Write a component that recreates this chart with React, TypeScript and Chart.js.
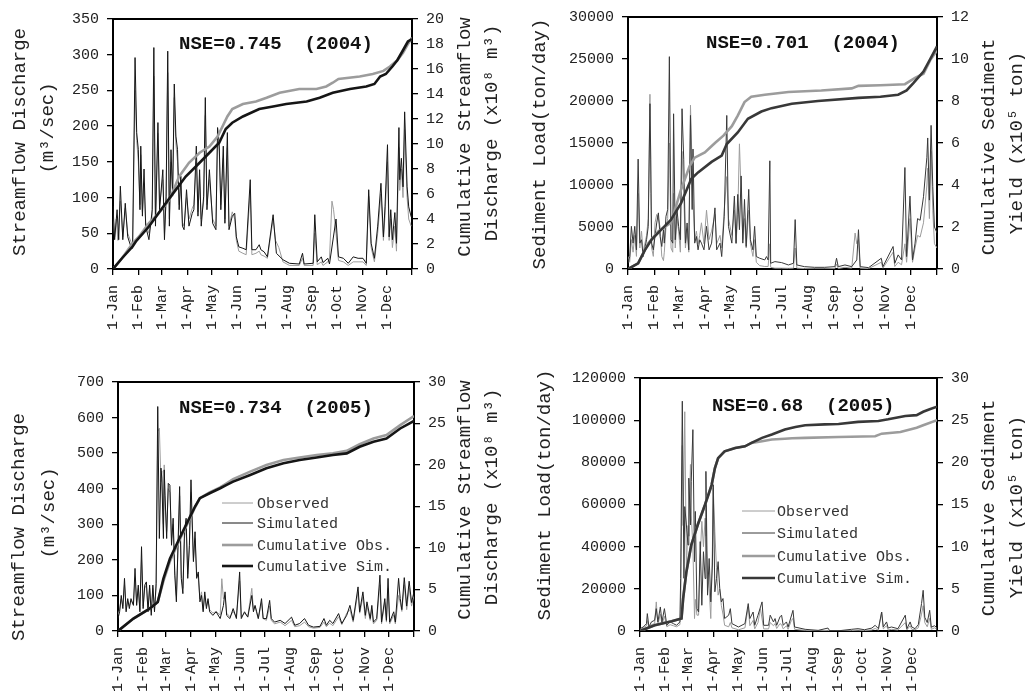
import React, { useEffect, useRef } from "react";
import { Chart, registerables } from "chart.js";

Chart.register(...registerables);

const FONT = "'Liberation Mono', 'DejaVu Sans Mono', monospace";

// ---------- axis tick labels ----------
const MONTH_LABELS = ["1-Jan", "1-Feb", "1-Mar", "1-Apr", "1-May", "1-Jun", "1-Jul", "1-Aug", "1-Sep", "1-Oct", "1-Nov", "1-Dec"];
const MONTH_STARTS_2004 = [0, 31, 60, 91, 121, 152, 182, 213, 244, 274, 305, 335];
const MONTH_STARTS_2005 = [0, 31, 59, 90, 120, 151, 181, 212, 243, 273, 304, 334];
const DAYS_2004 = 366;
const DAYS_2005 = 365;

const P1_LEFT_TICKS = [0, 50, 100, 150, 200, 250, 300, 350];
const P1_RIGHT_TICKS = [0, 2, 4, 6, 8, 10, 12, 14, 16, 18, 20];
const P2_LEFT_TICKS = [0, 5000, 10000, 15000, 20000, 25000, 30000];
const P2_RIGHT_TICKS = [0, 2, 4, 6, 8, 10, 12];
const P3_LEFT_TICKS = [0, 100, 200, 300, 400, 500, 600, 700];
const P3_RIGHT_TICKS = [0, 5, 10, 15, 20, 25, 30];
const P4_LEFT_TICKS = [0, 20000, 40000, 60000, 80000, 100000, 120000];
const P4_RIGHT_TICKS = [0, 5, 10, 15, 20, 25, 30];

// ---------- Panel 1: streamflow 2004 ([day, m3/s]) ----------
const P1_SIM: [number, number][] = [[0,88],[2,41],[5,83],[7,41],[9,116],[12,41],[15,92],[18,45],[22,31],[24,29],[27,296],[29,191],[31,167],[33,83],[34,172],[36,74],[38,140],[40,60],[44,41],[48,83],[50,310],[52,60],[55,205],[57,83],[61,139],[63,41],[65,102],[67,305],[69,60],[71,167],[73,102],[75,259],[77,186],[79,167],[81,83],[83,130],[85,60],[87,55],[90,111],[93,60],[97,78],[99,83],[102,172],[104,74],[106,139],[108,60],[111,102],[113,240],[115,83],[118,139],[122,64],[126,55],[128,198],[130,177],[132,83],[135,172],[137,64],[140,191],[142,55],[146,74],[149,78],[151,45],[154,31],[159,29],[163,27],[168,125],[170,27],[175,27],[179,34],[181,27],[185,24],[189,17],[196,76],[200,22],[208,13],[216,8],[228,7],[232,22],[234,7],[245,8],[247,76],[250,10],[255,17],[257,9],[263,15],[265,7],[273,70],[276,17],[282,15],[288,8],[294,17],[300,15],[306,15],[310,8],[313,111],[316,36],[320,15],[324,60],[328,120],[331,45],[333,88],[336,174],[338,45],[340,83],[342,41],[345,79],[347,36],[350,198],[351,125],[353,155],[355,115],[357,220],[360,115],[362,87],[365,73]];
const P1_OBS: [number, number][] = [[0,75],[2,45],[4,70],[6,40],[9,95],[12,45],[15,85],[18,50],[22,38],[24,33],[27,250],[29,180],[31,150],[33,90],[34,160],[36,80],[38,120],[40,65],[44,50],[48,75],[50,270],[52,70],[55,190],[57,90],[61,125],[63,50],[65,95],[67,275],[69,70],[71,150],[73,110],[75,240],[77,175],[79,150],[81,90],[83,120],[85,65],[87,60],[90,100],[93,70],[97,85],[99,90],[102,150],[104,80],[106,125],[108,70],[111,95],[113,215],[115,90],[118,125],[122,70],[126,60],[128,185],[130,165],[132,90],[135,155],[137,70],[140,170],[142,60],[146,80],[149,70],[151,40],[154,25],[159,22],[163,20],[168,110],[170,20],[175,22],[179,25],[181,20],[185,18],[189,15],[196,70],[199,40],[203,30],[208,10],[216,5],[228,5],[232,15],[234,5],[245,5],[247,50],[250,6],[255,10],[257,5],[263,10],[265,15],[268,95],[270,83],[273,50],[276,12],[282,10],[288,5],[294,10],[300,10],[306,10],[310,5],[313,102],[316,30],[320,10],[324,50],[328,105],[331,40],[333,75],[336,150],[338,40],[340,70],[342,30],[345,60],[347,25],[350,170],[351,110],[353,140],[355,100],[357,195],[360,100],[362,70],[365,60]];
const P1_CUM_OBS: [number, number][] = [[0,0],[11,0.86],[24,2.06],[32,2.6],[44,3.67],[56,4.47],[69,5.54],[81,7.4],[93,8.5],[106,9.3],[118,9.8],[128,10.6],[134,11.4],[140,12.2],[146,12.8],[159,13.2],[175,13.4],[188,13.7],[204,14.1],[228,14.4],[249,14.4],[261,14.6],[269,14.9],[276,15.2],[302,15.4],[318,15.6],[331,15.85],[339,16.2],[348,16.7],[355,17.3],[361,18.0],[366,18.5]];
const P1_CUM_SIM: [number, number][] = [[0,0],[11,0.86],[24,1.8],[28,2.2],[44,3.4],[65,5.3],[77,6.35],[89,7.4],[106,8.5],[118,9.3],[130,10.1],[138,11.2],[146,11.7],[159,12.2],[179,12.8],[196,13.0],[212,13.2],[237,13.4],[253,13.7],[269,14.1],[290,14.4],[310,14.6],[320,14.8],[327,15.4],[334,15.6],[342,16.2],[348,16.7],[355,17.5],[361,18.2],[366,18.4]];

// ---------- Panel 2: sediment 2004 ([day, ton/day]) ----------
const P2_SIM: [number, number][] = [[0,680],[2,1480],[4,5080],[6,3080],[8,5080],[10,2280],[12,13080],[14,3080],[16,3480],[18,1480],[22,3480],[24,5080],[26,19680],[27,13080],[28,3080],[30,2280],[32,3880],[34,5480],[36,6680],[38,3880],[40,2680],[42,4680],[43,3080],[45,6280],[47,7080],[49,25280],[51,3480],[53,3080],[54,18480],[56,3480],[58,7080],[60,5080],[62,3480],[64,19080],[66,13080],[68,3080],[70,5480],[72,2280],[74,18280],[76,7080],[77,14280],[79,3080],[81,3880],[83,2280],[85,3480],[87,3080],[90,2280],[93,5080],[96,2280],[99,3080],[103,7280],[105,2280],[109,3080],[111,1480],[114,6280],[117,18280],[119,5080],[123,3080],[126,8680],[128,3080],[130,8880],[132,4680],[134,11080],[136,3080],[138,8280],[140,2680],[143,9480],[145,3480],[148,2280],[150,5080],[152,1480],[156,1280],[162,1080],[164,1480],[166,1080],[168,12880],[169,680],[174,880],[182,760],[190,480],[196,680],[198,5880],[200,480],[209,280],[221,200],[233,200],[245,280],[247,1280],[249,280],[257,480],[265,280],[271,1080],[273,4680],[275,280],[285,160],[300,1280],[302,280],[314,2680],[316,680],[320,1680],[324,1080],[328,12080],[330,1480],[334,8680],[337,1080],[340,3080],[343,6000],[346,5800],[350,8600],[354,13300],[355,15600],[357,8200],[359,17100],[361,9800],[363,5000],[366,4300]];
const P2_OBS: [number, number][] = [[0,1500],[2,800],[4,3500],[6,2000],[8,4000],[10,1500],[12,9000],[14,2500],[16,4500],[18,2000],[22,4000],[24,6000],[26,20800],[27,9000],[28,2500],[30,1500],[32,5500],[34,6500],[36,6000],[38,5000],[40,1500],[42,1000],[43,2000],[45,5000],[47,6000],[49,15000],[51,2500],[53,2000],[54,9000],[56,2500],[58,6000],[60,4500],[62,2000],[64,14000],[66,9000],[68,2500],[70,4500],[72,2000],[74,19500],[76,12000],[77,8000],[79,3500],[81,4500],[83,3000],[85,4000],[87,5500],[90,3000],[93,7000],[96,3500],[99,4500],[103,6500],[105,3000],[109,4000],[111,2500],[114,7000],[117,11000],[119,6000],[123,4000],[126,7000],[128,3000],[130,6500],[132,14900],[134,9000],[136,3500],[138,6000],[140,2500],[143,7000],[145,3000],[148,1500],[150,3500],[152,800],[156,400],[162,300],[166,300],[168,3000],[169,200],[174,100],[182,100],[190,80],[196,100],[198,2500],[200,100],[209,50],[221,30],[233,30],[245,50],[247,600],[249,50],[257,200],[265,100],[269,4280],[271,3000],[273,3500],[275,100],[285,50],[300,800],[302,100],[314,2000],[316,300],[320,800],[324,500],[328,3000],[330,800],[334,6000],[337,800],[340,2500],[343,4000],[346,3800],[350,5500],[354,10000],[355,12000],[357,6000],[359,14000],[361,7000],[363,3000],[366,2500]];
const P2_CUM_OBS: [number, number][] = [[0,0],[12,0.27],[24,1.23],[36,1.8],[51,2.2],[63,3.8],[73,4.9],[79,5.3],[91,5.55],[103,6.0],[113,6.35],[123,6.8],[130,7.3],[138,7.95],[146,8.2],[162,8.3],[190,8.43],[229,8.5],[265,8.6],[273,8.72],[299,8.75],[328,8.8],[340,9.1],[350,9.3],[358,9.95],[366,10.4]];
const P2_CUM_SIM: [number, number][] = [[0,0],[12,0.27],[20,0.9],[28,1.4],[40,1.9],[51,2.35],[63,3.15],[75,4.3],[83,4.6],[99,5.1],[111,5.4],[117,5.95],[130,6.5],[142,7.15],[158,7.5],[170,7.66],[194,7.87],[225,8.0],[273,8.15],[299,8.2],[320,8.3],[330,8.5],[338,8.85],[350,9.4],[358,10.0],[366,10.6]];

// ---------- Panel 3: streamflow 2005 ([day, m3/s]) ----------
const P3_SIM: [number, number][] = [[0,35],[2,54],[4,100],[6,63],[8,148],[10,54],[12,91],[14,63],[16,91],[19,72],[21,176],[23,72],[25,129],[27,54],[29,237],[31,63],[33,129],[35,138],[37,54],[39,129],[41,44],[43,129],[45,54],[47,133],[49,631],[51,260],[53,458],[54,430],[56,260],[57,453],[58,382],[60,260],[62,415],[64,410],[66,241],[68,317],[70,157],[72,82],[74,241],[76,406],[78,148],[80,105],[82,279],[84,317],[86,148],[88,241],[90,425],[93,195],[95,279],[97,148],[99,166],[101,82],[103,100],[105,54],[107,110],[109,63],[111,91],[113,54],[117,44],[121,54],[126,35],[130,72],[132,110],[134,44],[138,35],[142,63],[146,35],[150,166],[152,35],[156,54],[160,39],[165,100],[167,54],[169,72],[171,54],[173,35],[177,91],[179,35],[183,35],[187,86],[189,35],[193,25],[200,30],[206,21],[214,39],[218,16],[224,21],[230,35],[235,16],[241,11],[249,13],[254,35],[257,16],[261,30],[265,21],[272,49],[276,21],[282,44],[286,72],[290,30],[296,124],[298,54],[302,110],[305,44],[307,82],[311,35],[313,72],[315,25],[319,35],[323,157],[325,25],[329,91],[331,30],[333,148],[335,25],[340,54],[342,25],[346,148],[348,91],[350,60],[353,150],[356,70],[359,140],[362,80],[365,110]];
const P3_OBS: [number, number][] = [[0,45],[2,60],[4,90],[6,70],[8,130],[10,60],[12,85],[14,70],[16,85],[19,75],[21,150],[23,80],[25,120],[27,60],[29,200],[31,70],[33,120],[35,130],[37,60],[39,120],[41,55],[43,120],[45,60],[47,120],[49,560],[51,570],[53,420],[54,450],[56,300],[57,467],[58,360],[60,280],[62,400],[64,390],[66,260],[68,300],[70,170],[72,100],[74,230],[76,380],[78,160],[80,120],[82,260],[84,300],[86,160],[88,230],[90,390],[93,200],[95,260],[97,160],[99,150],[101,90],[103,110],[105,60],[107,100],[109,70],[111,85],[113,60],[117,50],[121,55],[126,45],[128,147],[130,90],[132,100],[134,50],[138,40],[142,55],[146,40],[150,140],[152,40],[156,50],[160,40],[165,120],[167,60],[169,70],[171,50],[173,35],[177,80],[179,35],[183,30],[187,70],[189,30],[193,20],[200,25],[206,15],[214,30],[218,12],[224,15],[230,25],[235,12],[241,8],[249,10],[254,25],[257,12],[261,22],[265,15],[272,40],[276,18],[282,50],[286,60],[290,25],[296,110],[298,50],[302,95],[305,35],[307,70],[311,30],[313,60],[315,20],[319,30],[323,130],[325,20],[329,80],[331,25],[333,120],[335,20],[340,45],[342,20],[346,100],[348,80],[350,55],[353,130],[356,60],[359,120],[362,70],[365,100]];
const P3_CUM_OBS: [number, number][] = [[0,0],[19,1.5],[39,2.7],[49,3.5],[56,6.0],[64,8.4],[76,11.0],[88,13.4],[95,14.9],[101,16.0],[113,16.7],[126,17.3],[134,17.8],[142,18.3],[163,19.2],[183,20.0],[204,20.6],[224,20.9],[245,21.2],[265,21.4],[282,21.7],[298,22.5],[315,23.2],[331,23.6],[348,24.8],[365,25.9]];
const P3_CUM_SIM: [number, number][] = [[0,0],[19,1.5],[39,2.7],[49,3.5],[56,6.3],[64,8.7],[76,11.2],[88,13.6],[95,15.0],[101,16.0],[113,16.6],[126,17.2],[134,17.6],[142,18.0],[163,18.8],[183,19.6],[204,20.2],[224,20.6],[245,20.9],[265,21.2],[282,21.4],[298,22.2],[315,22.8],[331,23.2],[348,24.4],[365,25.3]];

// ---------- Panel 4: sediment 2005 ([day, ton/day]) ----------
const P4_SIM: [number, number][] = [[0,1100],[4,1900],[8,3500],[9,8250],[11,1900],[14,4300],[18,5100],[20,10600],[22,4300],[25,11400],[27,4300],[30,10600],[33,2700],[37,4300],[41,3500],[45,2700],[49,4300],[50,25000],[52,109000],[54,25000],[55,59000],[57,50300],[59,40800],[60,72500],[62,50300],[63,71000],[65,95500],[67,32900],[68,56700],[70,10600],[72,9000],[74,42400],[76,12200],[78,37600],[80,24900],[81,75700],[83,17000],[85,34400],[87,13800],[89,31300],[90,69400],[92,18600],[94,24900],[96,32900],[98,20200],[100,13800],[102,15400],[104,5900],[109,7500],[111,10600],[113,3500],[121,1900],[129,3500],[133,13000],[135,5900],[139,9000],[141,2700],[145,7500],[150,13800],[152,2700],[158,2700],[160,7500],[164,4300],[166,5900],[168,2700],[172,6700],[174,7500],[176,2700],[180,4300],[182,1900],[188,9800],[190,1900],[203,800],[219,300],[231,1400],[233,200],[244,100],[260,800],[268,1100],[276,600],[285,1400],[289,2700],[293,1100],[297,9000],[299,1900],[303,4300],[305,1400],[309,1900],[317,1100],[326,7500],[328,1100],[332,4300],[334,1900],[338,1100],[342,3000],[346,13000],[348,19300],[350,6500],[353,4000],[356,9800],[358,1800],[362,2500],[365,1500]];
const P4_OBS: [number, number][] = [[0,500],[4,1500],[8,2500],[9,5000],[11,1500],[14,3000],[18,3500],[20,13800],[22,3000],[25,8000],[27,3000],[30,7000],[33,2000],[37,3000],[41,2500],[45,2000],[49,3000],[50,10000],[52,88000],[53,50000],[55,104000],[57,30000],[59,50000],[60,45000],[62,79000],[63,55000],[65,40000],[67,5900],[68,15000],[70,7500],[72,7500],[74,35000],[76,52000],[78,40000],[80,53500],[81,45000],[83,27000],[85,20000],[87,5900],[89,40000],[90,67800],[92,47000],[94,30000],[96,17000],[98,20000],[100,12000],[102,8000],[104,2700],[109,2000],[111,4000],[113,1500],[121,600],[129,1500],[133,11500],[135,2500],[139,5000],[141,1000],[145,4000],[148,10600],[152,1000],[158,1000],[160,4000],[164,2500],[166,3500],[168,1200],[172,3500],[174,3000],[176,1000],[180,2500],[182,800],[186,5000],[188,6000],[190,800],[203,300],[219,100],[231,300],[233,100],[244,50],[260,200],[268,400],[276,200],[285,500],[289,1200],[293,400],[297,9000],[299,1000],[303,2500],[305,500],[309,800],[317,500],[326,4000],[328,500],[332,2500],[334,800],[338,600],[342,1500],[346,8000],[348,12000],[350,4000],[353,2000],[356,6000],[358,800],[362,1500],[365,800]];
const P4_CUM_OBS: [number, number][] = [[0,0],[18,0.67],[39,1.15],[51,1.47],[53,3.85],[57,7.0],[63,10.2],[71,12.6],[80,15.0],[88,17.3],[92,19.3],[96,20.5],[104,21.3],[117,21.7],[129,21.9],[137,22.3],[150,22.5],[162,22.7],[178,22.8],[187,22.85],[203,22.9],[244,23.0],[289,23.1],[297,23.4],[320,23.6],[340,24.1],[348,24.4],[365,25.0]];
const P4_CUM_SIM: [number, number][] = [[0,0],[18,0.67],[39,1.15],[51,1.47],[53,3.85],[57,7.0],[63,10.2],[71,12.6],[80,15.0],[88,17.3],[92,19.3],[96,20.5],[104,21.3],[117,21.7],[129,21.9],[137,22.3],[150,22.9],[162,23.3],[178,23.9],[191,24.2],[203,24.4],[227,24.5],[244,24.55],[268,24.8],[293,24.9],[305,25.1],[326,25.5],[340,25.6],[348,26.0],[356,26.3],[365,26.6]];

const LEGEND_LABELS = ["Observed", "Simulated", "Cumulative Obs.", "Cumulative Sim."];

type Txt = { text: string; x: number; y: number };
type PanelCfg = {
  canvas: { x: number; y: number; w: number; h: number };
  area: { left: number; top: number; right: number; bottom: number };
  days: number;
  months: number[];
  leftTicks: number[];
  rightTicks: number[];
  obs: [number, number][];
  sim: [number, number][];
  cumObs: [number, number][];
  cumSim: [number, number][];
  dark: string;
  titles: Txt[];
  nse: Txt;
  legend?: { x1: number; x2: number; tx: number; rows: number[] };
};

const GRAY = "#9c9c9c";

const PANELS: PanelCfg[] = [
  {
    canvas: { x: 0, y: 0, w: 512, h: 348 },
    area: { left: 113, top: 19, right: 412, bottom: 269 },
    days: DAYS_2004, months: MONTH_STARTS_2004,
    leftTicks: P1_LEFT_TICKS, rightTicks: P1_RIGHT_TICKS,
    obs: P1_OBS, sim: P1_SIM, cumObs: P1_CUM_OBS, cumSim: P1_CUM_SIM,
    dark: "#151515",
    titles: [
      { text: "Streamflow Discharge", x: 20, y: 142 },
      { text: "(m\u00b3/sec)", x: 48, y: 128 },
      { text: "Cumulative Streamflow", x: 465, y: 137 },
      { text: "Discharge (x10\u2078 m\u00b3)", x: 492, y: 133 },
    ],
    nse: { text: "NSE=0.745  (2004)", x: 179, y: 44 },
  },
  {
    canvas: { x: 512, y: 0, w: 513, h: 348 },
    area: { left: 628, top: 17, right: 937, bottom: 269 },
    days: DAYS_2004, months: MONTH_STARTS_2004,
    leftTicks: P2_LEFT_TICKS, rightTicks: P2_RIGHT_TICKS,
    obs: P2_OBS, sim: P2_SIM, cumObs: P2_CUM_OBS, cumSim: P2_CUM_SIM,
    dark: "#383838",
    titles: [
      { text: "Sediment Load(ton/day)", x: 540, y: 144 },
      { text: "Cumulative Sediment", x: 989, y: 147 },
      { text: "Yield (x10\u2075 ton)", x: 1017, y: 143 },
    ],
    nse: { text: "NSE=0.701  (2004)", x: 706, y: 43 },
  },
  {
    canvas: { x: 0, y: 348, w: 512, h: 349 },
    area: { left: 118, top: 382, right: 414, bottom: 631 },
    days: DAYS_2005, months: MONTH_STARTS_2005,
    leftTicks: P3_LEFT_TICKS, rightTicks: P3_RIGHT_TICKS,
    obs: P3_OBS, sim: P3_SIM, cumObs: P3_CUM_OBS, cumSim: P3_CUM_SIM,
    dark: "#151515",
    titles: [
      { text: "Streamflow Discharge", x: 19, y: 527 },
      { text: "(m\u00b3/sec)", x: 49, y: 513 },
      { text: "Cumulative Streamflow", x: 465, y: 500 },
      { text: "Discharge (x10\u2078 m\u00b3)", x: 492, y: 497 },
    ],
    nse: { text: "NSE=0.734  (2005)", x: 179, y: 408 },
    legend: { x1: 222, x2: 253, tx: 257, rows: [503, 523, 545, 566] },
  },
  {
    canvas: { x: 512, y: 348, w: 513, h: 349 },
    area: { left: 640, top: 378, right: 937, bottom: 631 },
    days: DAYS_2005, months: MONTH_STARTS_2005,
    leftTicks: P4_LEFT_TICKS, rightTicks: P4_RIGHT_TICKS,
    obs: P4_OBS, sim: P4_SIM, cumObs: P4_CUM_OBS, cumSim: P4_CUM_SIM,
    dark: "#383838",
    titles: [
      { text: "Sediment Load(ton/day)", x: 545, y: 495 },
      { text: "Cumulative Sediment", x: 989, y: 508 },
      { text: "Yield (x10\u2075 ton)", x: 1017, y: 507 },
    ],
    nse: { text: "NSE=0.68  (2005)", x: 712, y: 406 },
    legend: { x1: 742, x2: 775, tx: 777, rows: [511, 533, 556, 578] },
  },
];

const pts = (a: [number, number][]) => a.map(([x, y]) => ({ x, y }));

function Panel({ cfg }: { cfg: PanelCfg }) {
  const ref = useRef<HTMLCanvasElement>(null);
  const c = cfg.canvas;
  useEffect(() => {
    const canvas = ref.current;
    if (!canvas) return;
    const a = cfg.area;
    const tickFont = { family: FONT, size: 15 };
    const axisGrid = { display: true, drawOnChartArea: false, drawTicks: true, tickLength: 6, color: "#000", lineWidth: 1.3 };
    const axisBorder = { display: true, color: "#000", width: 2 };
    const styles = [
      { color: GRAY, width: 1 },
      { color: cfg.dark, width: 1 },
      { color: GRAY, width: 2.6 },
      { color: cfg.dark, width: 2.6 },
    ];
    const overlay = {
      id: "overlay",
      afterDraw(chart: any) {
        const ctx: CanvasRenderingContext2D = chart.ctx;
        const ca = chart.chartArea;
        ctx.save();
        ctx.strokeStyle = "#000";
        ctx.lineWidth = 2;
        ctx.beginPath();
        ctx.moveTo(ca.left - 1, ca.top);
        ctx.lineTo(ca.right + 1, ca.top);
        ctx.stroke();
        ctx.fillStyle = "#222";
        ctx.font = `19px ${FONT}`;
        ctx.textAlign = "center";
        ctx.textBaseline = "middle";
        for (const t of cfg.titles) {
          ctx.save();
          ctx.translate(t.x - c.x, t.y - c.y);
          ctx.rotate(-Math.PI / 2);
          ctx.fillText(t.text, 0, 0);
          ctx.restore();
        }
        ctx.font = `bold 19px ${FONT}`;
        ctx.textAlign = "left";
        ctx.fillStyle = "#111";
        ctx.fillText(cfg.nse.text, cfg.nse.x - c.x, cfg.nse.y - c.y);
        if (cfg.legend) {
          const L = cfg.legend;
          ctx.font = `15px ${FONT}`;
          ctx.fillStyle = "#333";
          LEGEND_LABELS.forEach((lab, i) => {
            const y = L.rows[i] - c.y;
            ctx.strokeStyle = styles[i].color;
            ctx.lineWidth = styles[i].width;
            ctx.beginPath();
            ctx.moveTo(L.x1 - c.x, y);
            ctx.lineTo(L.x2 - c.x, y);
            ctx.stroke();
            ctx.fillText(lab, L.tx - c.x, y + 1);
          });
        }
        ctx.restore();
      },
    };
    const chart = new Chart(canvas, {
      type: "line",
      data: {
        datasets: [
          { label: "Cumulative Sim.", data: pts(cfg.cumSim), yAxisID: "y1", borderColor: cfg.dark, borderWidth: 2.6, order: 0 },
          { label: "Cumulative Obs.", data: pts(cfg.cumObs), yAxisID: "y1", borderColor: GRAY, borderWidth: 2.6, order: 1 },
          { label: "Simulated", data: pts(cfg.sim), yAxisID: "y", borderColor: cfg.dark, borderWidth: 1, order: 2 },
          { label: "Observed", data: pts(cfg.obs), yAxisID: "y", borderColor: GRAY, borderWidth: 1, order: 3 },
        ] as any,
      },
      options: {
        animation: false,
        responsive: false,
        devicePixelRatio: 1,
        events: [],
        layout: { padding: { top: a.top - c.y, left: 0, right: 0, bottom: 0 } },
        elements: { point: { radius: 0 }, line: { tension: 0 } },
        plugins: { legend: { display: false }, tooltip: { enabled: false } },
        scales: {
          x: {
            type: "linear",
            min: 0,
            max: cfg.days,
            afterBuildTicks: (s: any) => {
              s.ticks = [...cfg.months, cfg.days].map((v) => ({ value: v }));
            },
            afterFit: (s: any) => {
              s.height = c.y + c.h - a.bottom;
            },
            ticks: {
              autoSkip: false,
              minRotation: 90,
              maxRotation: 90,
              padding: 10,
              color: "#222",
              font: { family: FONT, size: 15 },
              callback: (_v: any, i: number) => MONTH_LABELS[i] ?? "",
            },
            grid: axisGrid,
            border: axisBorder,
          },
          y: {
            position: "left",
            min: 0,
            max: cfg.leftTicks[cfg.leftTicks.length - 1],
            afterBuildTicks: (s: any) => {
              s.ticks = cfg.leftTicks.map((v) => ({ value: v }));
            },
            afterFit: (s: any) => {
              s.width = a.left - c.x;
            },
            ticks: { padding: 8, color: "#222", font: tickFont, callback: (v: any) => String(v) },
            grid: axisGrid,
            border: axisBorder,
          },
          y1: {
            position: "right",
            min: 0,
            max: cfg.rightTicks[cfg.rightTicks.length - 1],
            afterBuildTicks: (s: any) => {
              s.ticks = cfg.rightTicks.map((v) => ({ value: v }));
            },
            afterFit: (s: any) => {
              s.width = c.x + c.w - a.right;
            },
            ticks: { padding: 8, color: "#222", font: tickFont, callback: (v: any) => String(v) },
            grid: axisGrid,
            border: axisBorder,
          },
        },
      } as any,
      plugins: [overlay],
    });
    return () => chart.destroy();
  }, [cfg]);
  return (
    <canvas
      ref={ref}
      width={c.w}
      height={c.h}
      style={{ position: "absolute", left: c.x, top: c.y, width: c.w, height: c.h }}
    />
  );
}

export default function App() {
  return (
    <div style={{ position: "absolute", left: 0, top: 0, width: 1025, height: 697, background: "#fff", overflow: "hidden" }}>
      {PANELS.map((p, i) => (
        <Panel key={i} cfg={p} />
      ))}
    </div>
  );
}
